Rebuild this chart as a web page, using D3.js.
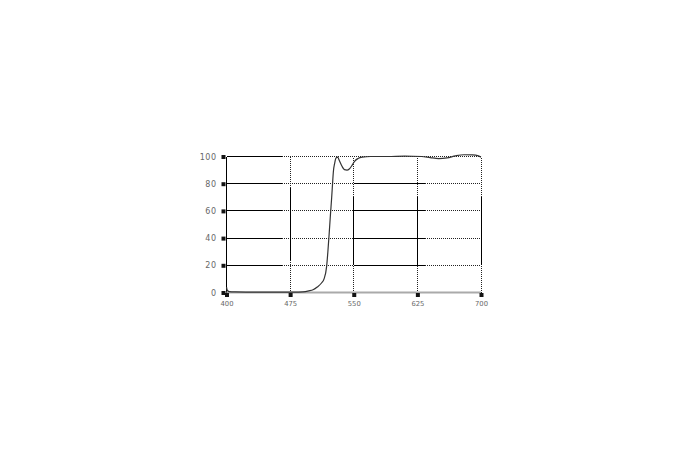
<!DOCTYPE html>
<html lang="en">
<head>
    <meta charset="UTF-8">
    <title>Transmission curve</title>
    <style>
        body{ margin:0; background:#fff; }
        svg{ display:block; }
        .axis{ opacity:0.99; }
        .axis text{
            font-family: "DejaVu Sans", sans-serif;
            fill:#666;
        }
        .solid{ stroke:#000; stroke-width:1px; fill:none; }
        .dotted{ stroke:#222; stroke-width:1px; stroke-dasharray:1,1; fill:none; }
        .curve{ stroke:#333; stroke-width:1.2px; fill:none; }
        .baseline{ stroke:#aaa; stroke-width:2px; }
        .tick-mark{ fill:#111; }
    </style>
    <script src="https://cdn.jsdelivr.net/npm/d3@7"></script>
</head>
<body>
<script>
    // wavelength (nm) and transmission (%)
    const wavelengths = [400, 401, 403, 410, 430, 450, 480, 490, 497, 502, 507, 512, 515, 518, 519.5,
        521, 522.5, 524, 525, 526, 527.5, 529, 531, 533, 536, 539, 542, 545, 548, 551, 555, 560,
        570, 590, 610, 630, 640, 650, 660, 670, 680, 690, 697, 700];
    const transmission = [4, 1.5, 0.7, 0.4, 0.3, 0.3, 0.3, 0.5, 1.2, 2, 4, 7, 10, 19, 30,
        43, 57, 70, 80, 89, 95, 98.8, 99.5, 97, 93, 90.3, 90, 91, 93.5, 96.5, 98.5, 99.5,
        100, 100, 100.3, 100, 99.2, 98.5, 99, 100.5, 101.3, 101.2, 100.5, 99.5];
    const xTicks = [400, 475, 550, 625, 700];
    const yTicks = [0, 20, 40, 60, 80, 100];

    const width = 690, height = 460;
    const svg = d3.select("body").append("svg")
        .attr("width", width).attr("height", height)
        .attr("viewBox", `0 0 ${width} ${height}`);

    const xScale = d3.scaleLinear().domain([400, 700]).range([226.5, 481]);
    const yScale = d3.scaleLinear().domain([0, 100]).range([292.5, 156.5]);
    // snap grid lines to pixel centres so they stay even
    const snap = v => Math.floor(v) + 0.5;

    const grid = svg.append("g");

    // horizontal grid: solid and dotted stretches as in the original print
    yTicks.filter(v => v > 0).forEach(v => {
        const solid = v === 100 ? [[400, 466]] : [[400, 466], [550, 634]];
        const dotted = v === 100 ? [[466, 700]] : [[466, 550], [634, 700]];
        const yy = snap(yScale(v));
        solid.forEach(s => grid.append("line").attr("class", "solid")
            .attr("x1", Math.round(xScale(s[0]))).attr("x2", Math.round(xScale(s[1])))
            .attr("y1", yy).attr("y2", yy));
        dotted.forEach(s => grid.append("line").attr("class", "dotted")
            .attr("x1", Math.round(xScale(s[0]))).attr("x2", Math.round(xScale(s[1])))
            .attr("y1", yy).attr("y2", yy));
    });

    // vertical grid
    xTicks.filter(v => v > 400).forEach(v => {
        const brk = v === 475 ? [24, 77] : [20, 70];
        const xx = snap(xScale(v));
        [[0, brk[0], "dotted"], [brk[0], brk[1], "solid"], [brk[1], 100, "dotted"]].forEach(s => {
            grid.append("line").attr("class", s[2])
                .attr("x1", xx).attr("x2", xx)
                .attr("y1", Math.round(yScale(s[0]))).attr("y2", Math.round(yScale(s[1])));
        });
    });

    // left axis line and grey base line
    grid.append("line").attr("class", "solid")
        .attr("x1", snap(xScale(400))).attr("x2", snap(xScale(400)))
        .attr("y1", Math.round(yScale(0))).attr("y2", Math.round(yScale(100)));
    svg.append("line").attr("class", "baseline")
        .attr("x1", xScale(400)).attr("x2", xScale(700))
        .attr("y1", yScale(0)).attr("y2", yScale(0));

    // curve
    const data = wavelengths.map((w, i) => ({w: w, t: transmission[i]}));
    const lineGen = d3.line()
        .x(d => xScale(d.w))
        .y(d => yScale(d.t))
        .curve(d3.curveMonotoneX);
    svg.append("path").attr("class", "curve").attr("d", lineGen(data));

    // axes (labels only, square tick marks added below)
    const yAxis = svg.append("g").attr("class", "axis")
        .attr("transform", `translate(${xScale(400)},0)`)
        .call(d3.axisLeft(yScale).tickValues(yTicks).tickSize(0).tickPadding(10));
    yAxis.select(".domain").remove();
    yAxis.selectAll("text").attr("font-size", "8px").attr("letter-spacing", "0.5px");
    yAxis.selectAll(".tick").append("rect").attr("class", "tick-mark")
        .attr("x", -5).attr("y", -2).attr("width", 4).attr("height", 4);

    const xAxis = svg.append("g").attr("class", "axis")
        .attr("transform", `translate(0,${yScale(0)})`)
        .call(d3.axisBottom(xScale).tickValues(xTicks).tickSize(0).tickPadding(8.5));
    xAxis.select(".domain").remove();
    xAxis.selectAll("text").attr("font-size", "6.8px");
    xAxis.selectAll(".tick").append("rect").attr("class", "tick-mark")
        .attr("x", -2).attr("y", 0.5).attr("width", 4).attr("height", 4);
</script>
</body>
</html>
